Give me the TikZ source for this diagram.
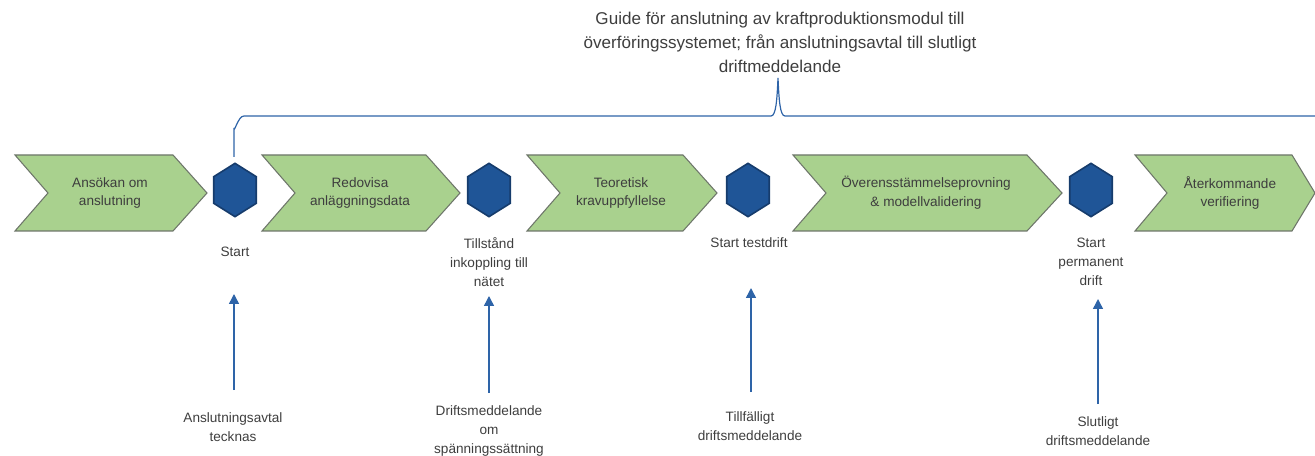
\documentclass[tikz,border=0pt]{standalone}
\usepackage{fontspec}
\setmainfont{Liberation Sans}
\usetikzlibrary{arrows.meta, shapes.geometric, positioning}
\definecolor{stepgreen}{RGB}{169, 209, 142}
\definecolor{stepedge}{RGB}{110, 118, 106}
\definecolor{milefill}{RGB}{31, 85, 151}
\definecolor{mileedge}{RGB}{22, 60, 108}
\definecolor{linkblue}{RGB}{46, 100, 168}
\definecolor{txt}{RGB}{62, 62, 62}
\tikzset{
    chevronpath/.style = {draw=stepedge, fill=stepgreen, line width=0.8pt, line join=miter},
    textnode/.style = {draw=none, fill=none, rectangle, inner sep=0em, align=center,
      text=txt, font=\fontsize{10.2}{14.2}\selectfont},
    titlenode/.style = {textnode, font=\fontsize{12.8}{18}\selectfont},
    milestone/.style = {regular polygon, regular polygon sides=6, shape border rotate=30,
      draw=mileedge, fill=milefill, line width=1.2pt, minimum size=40pt, inner sep=0em},
    uparrow/.style = {linkblue, line width=1.1pt, -{Triangle[width=7.5pt, length=7.5pt]}},
    brace/.style = {linkblue, line width=0.9pt}
}

\begin{document}
\begin{tikzpicture}[x=0.75pt, y=-0.75pt]
    \useasboundingbox (0,0) rectangle (1315,456);

    % steps
    \draw[chevronpath] (15,155) -- (173,155) -- (207,193) -- (173,231) -- (15,231) -- (48,193) -- cycle;
    \node [name=ansokan, textnode] at (110,193) {Ansökan om\\anslutning};
    \draw[chevronpath] (262,155) -- (426,155) -- (460,193) -- (426,231) -- (262,231) -- (295,193) -- cycle;
    \node [name=redovisa, textnode] at (360,193) {Redovisa\\anläggningsdata};
    \draw[chevronpath] (527,155) -- (683,155) -- (717,193) -- (683,231) -- (527,231) -- (560,193) -- cycle;
    \node [name=teoretisk, textnode] at (621,193) {Teoretisk\\kravuppfyllelse};
    \draw[chevronpath] (793,155) -- (1027,155) -- (1062,193) -- (1027,231) -- (793,231) -- (826,193) -- cycle;
    \node [name=overens, textnode] at (926,193) {Överensstämmelseprovning\\\& modellvalidering};
    \draw[chevronpath] (1135,155) -- (1292,155) -- (1315,193) -- (1292,231) -- (1135,231) -- (1167,193) -- cycle;
    \node [name=aterk, textnode] at (1230,193) {Återkommande\\verifiering};

    % milestones
    \node [name=hex1, milestone, xscale=0.92] at (235,190) {};
    \node [name=hex2, milestone, xscale=0.92] at (489,190) {};
    \node [name=hex3, milestone, xscale=0.92] at (748,190) {};
    \node [name=hex4, milestone, xscale=0.92] at (1091,190) {};

    \node [name=start, textnode] at (235,252) {Start};
    \node [name=tillstand, textnode] at (489,262) {Tillstånd\\inkoppling till\\nätet};
    \node [name=testdrift, textnode] at (749,243) {Start testdrift};
    \node [name=permanent, textnode] at (1091,262) {Start\\permanent\\drift};

    % documents
    \node [name=avtal, textnode] at (233,427) {Anslutningsavtal\\tecknas};
    \node [name=spanning, textnode] at (489,431) {Driftsmeddelande\\om\\spänningssättning};
    \node [name=tillf, textnode] at (750,426) {Tillfälligt\\driftsmeddelande};
    \node [name=slutligt, textnode] at (1098,431) {Slutligt\\driftsmeddelande};

    \coordinate (a1b) at (234,390); \coordinate (a1t) at (234,294);
    \coordinate (a2b) at (489,393); \coordinate (a2t) at (489,296);
    \coordinate (a3b) at (751,392); \coordinate (a3t) at (751,288);
    \coordinate (a4b) at (1098,404); \coordinate (a4t) at (1098,299);
    \draw[uparrow] (a1b) -- (a1t);
    \draw[uparrow] (a2b) -- (a2t);
    \draw[uparrow] (a3b) -- (a3t);
    \draw[uparrow] (a4b) -- (a4t);

    % title and brace
    \node [name=guide, titlenode] at (780,42) {Guide för anslutning av kraftproduktionsmodul till\\överföringssystemet; från anslutningsavtal till slutligt\\driftmeddelande};
    \coordinate (bl) at (234,157);
    \coordinate (bp) at (778,78);
    \coordinate (br) at (1316,116);
    \draw[brace] (bl) -- (234,128) to[out=-90, in=180] (244,116) -- (771,116)
        .. controls (776,116) and (777,100) .. (bp)
        .. controls (779,100) and (780,116) .. (785,116) -- (br);
\end{tikzpicture}
\end{document}
